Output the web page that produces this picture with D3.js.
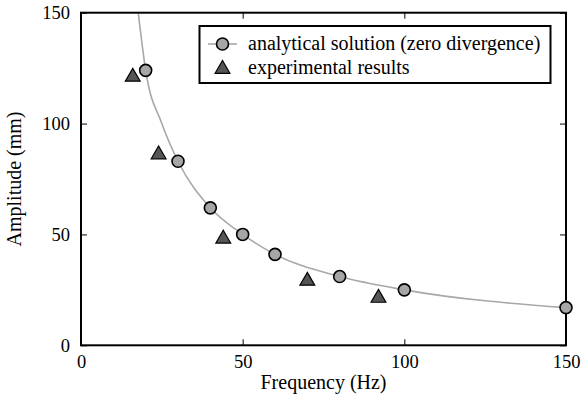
<!DOCTYPE html>
<html><head><meta charset="utf-8">
<script src="https://cdn.jsdelivr.net/npm/d3@7"></script>
<style>body{margin:0;background:#fff}svg{display:block}</style>
</head><body>
<svg id="c" width="585" height="395"></svg>
<script>
// analytical solution markers
const analyticFreq = [20, 30, 40, 50, 60, 80, 100, 150];
const analyticAmp = [124, 83, 62, 50, 41, 31, 25, 17];
// analytical curve (starts at the top edge)
const curveFreq = [17.7, 20, 25, 30, 40, 50, 60, 80, 100, 150];
const curveAmp = [150, 124, 100, 83, 62, 50, 41, 31, 25, 17];
// experimental results
const expFreq = [16, 24, 44, 70, 92];
const expAmp = [121.5, 86.5, 48.5, 29.5, 21.8];
const xTicks = [0, 50, 100, 150];
const yTicks = [0, 50, 100, 150];
const legendLabels = ["analytical solution (zero divergence)", "experimental results"];

const FONT = "Liberation Serif";
const svg = d3.select("#c");
const L = 81, R = 566, T = 12.7, B = 345.3;
const xs = d3.scaleLinear().domain([0, 150]).range([L, R]);
const ys = d3.scaleLinear().domain([0, 150]).range([B, T]);

// text first
svg.append("text").attr("x", (L + R) / 2).attr("y", 389).attr("text-anchor", "middle")
  .attr("font-family", FONT).attr("font-size", 20).text("Frequency (Hz)");
svg.append("text").attr("transform", `translate(21,${(T + B) / 2}) rotate(-90)`).attr("text-anchor", "middle")
  .attr("font-family", FONT).attr("font-size", 20).text("Amplitude (mm)");

// curve
const lineGen = d3.line().x(d => xs(d[0])).y(d => ys(d[1])).curve(d3.curveMonotoneX);
svg.append("path")
  .datum(curveFreq.map((f, i) => [f, curveAmp[i]]))
  .attr("d", lineGen).attr("fill", "none").attr("stroke", "#a8a8a8").attr("stroke-width", 1.6);

// axes (box with inward ticks)
const fs = 18.5;
const gB = svg.append("g").attr("transform", `translate(0,${B})`)
  .call(d3.axisBottom(xs).tickValues(xTicks).tickSize(-6).tickPadding(10).tickFormat(d3.format("d")));
const gT = svg.append("g").attr("transform", `translate(0,${T})`)
  .call(d3.axisTop(xs).tickValues(xTicks).tickSize(-6).tickFormat(""));
const gL = svg.append("g").attr("transform", `translate(${L},0)`)
  .call(d3.axisLeft(ys).tickValues(yTicks).tickSize(-6).tickPadding(11).tickFormat(d3.format("d")));
const gR = svg.append("g").attr("transform", `translate(${R},0)`)
  .call(d3.axisRight(ys).tickValues(yTicks).tickSize(-6).tickFormat(""));
[gB, gT, gL, gR].forEach(g => {
  g.attr("font-family", FONT).attr("font-size", fs);
  g.select(".domain").remove();
  g.selectAll(".tick line").attr("stroke", "#000").attr("stroke-width", 1);
});
svg.append("rect").attr("x", L).attr("y", T).attr("width", R - L).attr("height", B - T)
  .attr("fill", "none").attr("stroke", "#000").attr("stroke-width", 2);

// markers
const tri = d3.symbol().type(d3.symbolTriangle).size(95);
svg.append("g").selectAll("path").data(expFreq.map((f, i) => [f, expAmp[i]])).join("path")
  .attr("d", tri).attr("transform", d => `translate(${xs(d[0])},${ys(d[1]) + 1})`)
  .attr("fill", "#555").attr("stroke", "#000").attr("stroke-width", 1.2);
svg.append("g").selectAll("circle").data(analyticFreq.map((f, i) => [f, analyticAmp[i]])).join("circle")
  .attr("cx", d => xs(d[0])).attr("cy", d => ys(d[1])).attr("r", 6)
  .attr("fill", "#a6a6a6").attr("stroke", "#000").attr("stroke-width", 1.6);

// legend
const lg = svg.append("g");
lg.append("rect").attr("x", 199.5).attr("y", 26).attr("width", 351).attr("height", 57)
  .attr("fill", "#fff").attr("stroke", "#000").attr("stroke-width", 2);
lg.append("line").attr("x1", 208).attr("x2", 237).attr("y1", 44).attr("y2", 44)
  .attr("stroke", "#a8a8a8").attr("stroke-width", 1.6);
lg.append("circle").attr("cx", 222.5).attr("cy", 44).attr("r", 6)
  .attr("fill", "#a6a6a6").attr("stroke", "#000").attr("stroke-width", 1.6);
lg.append("path").attr("d", tri).attr("transform", "translate(222.5,69)")
  .attr("fill", "#555").attr("stroke", "#000").attr("stroke-width", 1.2);
lg.selectAll("text.l").data(legendLabels).join("text").attr("class", "l")
  .attr("x", 248).attr("y", (d, i) => 50 + i * 24)
  .attr("font-family", FONT).attr("font-size", 20).text(d => d);
</script>
</body></html>
